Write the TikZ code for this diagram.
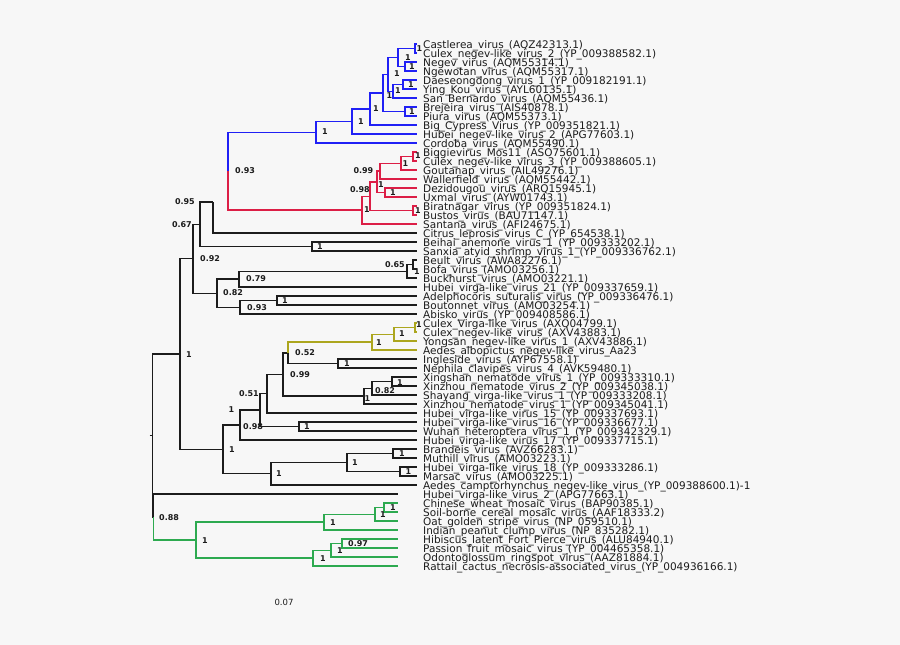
\documentclass[tikz,border=0pt]{standalone}
\usepackage{fontspec}
\setmainfont{DejaVu Sans}
\usetikzlibrary{calc}
\definecolor{cblue}{RGB}{32,32,245}
\definecolor{cred}{RGB}{220,30,70}
\definecolor{colive}{RGB}{172,166,30}
\definecolor{cgreen}{RGB}{45,170,80}
\definecolor{cdark}{RGB}{28,28,28}
\definecolor{bgc}{RGB}{247,247,247}
\begin{document}
\begin{tikzpicture}[x=1pt,y=-1pt,
  cd/.style={line width=1.4pt,cdark},
  cb/.style={line width=1.4pt,cblue},
  cr/.style={line width=1.4pt,cred},
  co/.style={line width=1.4pt,colive},
  cg/.style={line width=1.4pt,cgreen},
  tiplab/.style={anchor=base west,inner sep=0pt,font=\fontsize{10.5}{10.5}\selectfont,text=cdark},
  nl/.style={inner sep=0pt,font=\fontsize{8}{8}\selectfont\bfseries,text=cdark},
  nlw/.style={nl,anchor=west},
  nle/.style={nl,anchor=east}]
\fill[bgc] (0,0) rectangle (900,645);
\useasboundingbox (0,0) rectangle (900,645);
% tips
\foreach \i in {0,...,49} \coordinate (t\i) at (416.5,44+9*\i);
\foreach \i in {50,...,58} \coordinate (t\i) at (398,44+9*\i);
% internal nodes
\coordinate (P1) at (415,48.5);
\coordinate (P2) at (405,66.5);
\coordinate (b5) at (398,57.5);
\coordinate (P3) at (403,84.5);
\coordinate (b6) at (393,91.25);
\coordinate (b4) at (388,74.4);
\coordinate (P4) at (405,111.5);
\coordinate (b7) at (383,92.9);
\coordinate (b3) at (370,109);
\coordinate (b2) at (352,121.5);
\coordinate (b1) at (316,132.2);
\coordinate (P5) at (413,156.5);
\coordinate (R6) at (401,163.25);
\coordinate (R4) at (380,171.1);
\coordinate (R5) at (385,192.5);
\coordinate (R3) at (377,181.8);
\coordinate (P6) at (413,210.5);
\coordinate (R2) at (370,196.2);
\coordinate (R1) at (362,210.1);
\coordinate (N93) at (228,171.2);
\coordinate (D) at (213,202.1);
\coordinate (BS) at (312,246.5);
\coordinate (C) at (200,224.3);
\coordinate (H) at (413,264.5);
\coordinate (G) at (407,271.25);
\coordinate (F) at (239,279.1);
\coordinate (AB) at (277,300.5);
\coordinate (I) at (240,307.25);
\coordinate (E) at (217,293.2);
\coordinate (B) at (193,258.7);
\coordinate (O3) at (415,327.5);
\coordinate (O2) at (394,334.25);
\coordinate (O1) at (372,342.1);
\coordinate (IN) at (338,363.5);
\coordinate (N) at (288,352.8);
\coordinate (S) at (392,381.5);
\coordinate (Rr) at (372,388.25);
\coordinate (Q) at (364,396.1);
\coordinate (P) at (283,374.5);
\coordinate (T) at (267,393.7);
\coordinate (V) at (299,426.5);
\coordinate (U) at (260,410.1);
\coordinate (K) at (240,425.1);
\coordinate (X) at (393,453.5);
\coordinate (Y) at (400,471.5);
\coordinate (W) at (347,462.5);
\coordinate (L) at (271,473.75);
\coordinate (J) at (223,449.4);
\coordinate (A) at (180,354);
\coordinate (Z3) at (384,507.5);
\coordinate (Z2) at (375,514.25);
\coordinate (Z1) at (324,522.1);
\coordinate (Z6) at (342,543.5);
\coordinate (Z5) at (331,550.25);
\coordinate (Z4) at (313,558.1);
\coordinate (Z) at (196,540.1);
\coordinate (RR) at (153.5,517);
\coordinate (root) at (152.5,435.5);
\coordinate (rstub) at (149.5,435.5);
% blue clade
\foreach \p/\c in {P1/t0,P1/t1,P2/t2,P2/t3,b5/P1,b5/P2,P3/t4,P3/t5,b6/P3,b6/t6,b4/b5,b4/b6,P4/t7,P4/t8,b7/b4,b7/P4,b3/b7,b3/t9,b2/b3,b2/t10,b1/b2,b1/t11,N93/b1}
  \draw[cb] (\p) |- (\c);
% red clade
\foreach \p/\c in {P5/t12,P5/t13,R6/P5,R6/t14,R4/R6,R4/t15,R5/t16,R5/t17,R3/R4,R3/R5,P6/t18,P6/t19,R2/R3,R2/P6,R1/R2,R1/t20,N93/R1}
  \draw[cr] (\p) |- (\c);
% dark
\foreach \p/\c in {D/t21,C/D,BS/t22,BS/t23,C/BS,B/C,H/t24,H/t25,G/H,G/t26,F/G,F/t27,AB/t28,AB/t29,I/AB,I/t30,E/F,E/I,B/E,A/B,IN/t35,IN/t36,N/IN,S/t37,S/t38,Rr/S,Rr/t39,Q/Rr,Q/t40,P/N,P/Q,T/P,T/t41,V/t42,V/t43,U/T,U/V,K/U,K/t44,X/t45,X/t46,Y/t47,Y/t48,W/X,W/Y,L/W,L/t49,J/K,J/L,A/J,root/A,root/RR,RR/t50}
  \draw[cd] (\p) |- (\c);
\draw[cd] (rstub) -- (root);
% olive clade
\foreach \p/\c in {O3/t31,O3/t32,O2/O3,O2/t33,O1/O2,O1/t34,N/O1}
  \draw[co] (\p) |- (\c);
% green clade
\foreach \p/\c in {Z3/t51,Z3/t52,Z2/Z3,Z2/t53,Z1/Z2,Z1/t54,Z6/t55,Z6/t56,Z5/Z6,Z5/t57,Z4/Z5,Z4/t58,Z/Z1,Z/Z4,RR/Z}
  \draw[cg] (\p) |- (\c);
% tip labels
\foreach \txt [count=\i from 0] in {
Castlerea\_virus\_(AQZ42313.1),
Culex\_negev-like\_virus\_2\_(YP\_009388582.1),
Negev\_virus\_(AQM55314.1),
Ngewotan\_virus\_(AQM55317.1),
Daeseongdong\_virus\_1\_(YP\_009182191.1),
Ying\_Kou\_virus\_(AYL60135.1),
San\_Bernardo\_virus\_(AQM55436.1),
Brejeira\_virus\_(AIS40878.1),
Piura\_virus\_(AQM55373.1),
Big\_Cypress\_Virus\_(YP\_009351821.1),
Hubei\_negev-like\_virus\_2\_(APG77603.1),
Cordoba\_virus\_(AQM55490.1),
Biggievirus\_Mos11\_(ASO75601.1),
Culex\_negev-like\_virus\_3\_(YP\_009388605.1),
Goutanap\_virus\_(AIL49276.1),
Wallerfield\_virus\_(AQM55442.1),
Dezidougou\_virus\_(ARQ15945.1),
Uxmal\_virus\_(AYW01743.1),
Biratnagar\_virus\_(YP\_009351824.1),
Bustos\_virus\_(BAU71147.1),
Santana\_virus\_(AFI24675.1),
Citrus\_leprosis\_virus\_C\_(YP\_654538.1),
Beihai\_anemone\_virus\_1\_(YP\_009333202.1),
Sanxia\_atyid\_shrimp\_virus\_1\_(YP\_009336762.1),
Beult\_virus\_(AWA82276.1),
Bofa\_virus\_(AMO03256.1),
Buckhurst\_virus\_(AMO03221.1),
Hubei\_virga-like\_virus\_21\_(YP\_009337659.1),
Adelphocoris\_suturalis\_virus\_(YP\_009336476.1),
Boutonnet\_virus\_(AMO03254.1),
Abisko\_virus\_(YP\_009408586.1),
Culex\_Virga-like\_virus\_(AXQ04799.1),
Culex\_negev-like\_virus\_(AXV43883.1),
Yongsan\_negev-like\_virus\_1\_(AXV43886.1),
Aedes\_albopictus\_negev-like\_virus\_Aa23,
Ingleside\_virus\_(AYP67558.1),
Nephila\_clavipes\_virus\_4\_(AVK59480.1),
Xingshan\_nematode\_virus\_1\_(YP\_009333310.1),
Xinzhou\_nematode\_virus\_2\_(YP\_009345038.1),
Shayang\_virga-like\_virus\_1\_(YP\_009333208.1),
Xinzhou\_nematode\_virus\_1\_(YP\_009345041.1),
Hubei\_virga-like\_virus\_15\_(YP\_009337693.1),
Hubei\_virga-like\_virus\_16\_(YP\_009336677.1),
Wuhan\_heteroptera\_virus\_1\_(YP\_009342329.1),
Hubei\_virga-like\_virus\_17\_(YP\_009337715.1),
Brandeis\_virus\_(AVZ66283.1),
Muthill\_virus\_(AMO03223.1),
Hubei\_virga-like\_virus\_18\_(YP\_009333286.1),
Marsac\_virus\_(AMO03225.1),
Aedes\_camptorhynchus\_negev-like\_virus\_(YP\_009388600.1)-1,
Hubei\_virga-like\_virus\_2\_(APG77663.1),
Chinese\_wheat\_mosaic\_virus\_(BAP90385.1),
Soil-borne\_cereal\_mosaic\_virus\_(AAF18333.2),
Oat\_golden\_stripe\_virus\_(NP\_059510.1),
Indian\_peanut\_clump\_virus\_(NP\_835282.1),
Hibiscus\_latent\_Fort\_Pierce\_virus\_(ALU84940.1),
Passion\_fruit\_mosaic\_virus\_(YP\_004465358.1),
Odontoglossum\_ringspot\_virus\_(AAZ81884.1),
Rattail\_cactus\_necrosis-associated\_virus\_(YP\_004936166.1)}
  \node[tiplab] (l\i) at (423,48+9*\i) {\txt};
% support values: blue
\begin{scope}[every node/.append style={text=cblue}]
\node[nl] (sP1) at (419.5,48.5) {1};
\node[nl] (sb5) at (408,57.5) {1};
\node[nl] (sP2) at (412,66.5) {1};
\node[nl] (sb4) at (397,74) {1};
\node[nl] (sP3) at (411,84.5) {1};
\node[nl] (sb6) at (398,91) {1};
\node[nl] (sb7) at (389.5,96) {1};
\node[nl] (sP4) at (412,112) {1};
\node[nl] (sb3) at (376,109) {1};
\node[nl] (sb2) at (361,121.5) {1};
\node[nl] (sb1) at (325,132) {1};
\end{scope}
% red
\begin{scope}[every node/.append style={text=cred}]
\node[nl] (sP5) at (418,156) {1};
\node[nl] (sR6) at (405.5,163.5) {1};
\node[nle] (sR4) at (373.5,171) {0.99};
\node[nl] (sR3) at (381,184.5) {1};
\node[nl] (sR5) at (393,192.5) {1};
\node[nl] (sP6) at (418,211) {1};
\node[nle] (sR2) at (370,190) {0.98};
\node[nl] (sR1) at (367,210) {1};
\end{scope}
% olive
\begin{scope}[every node/.append style={text=colive}]
\node[nl] (sO3) at (419,325) {1};
\node[nl] (sO2) at (402,334) {1};
\node[nl] (sO1) at (379,343) {1};
\end{scope}
% green
\begin{scope}[every node/.append style={text=cgreen}]
\node[nl] (sZ3) at (393,508) {1};
\node[nl] (sZ2) at (383,515) {1};
\node[nl] (sZ1) at (333,523) {1};
\node[nlw] (sZ6) at (348,544) {0.97};
\node[nl] (sZ5) at (340,551) {1};
\node[nl] (sZ4) at (323,559) {1};
\node[nl] (sZ) at (205,541) {1};
\end{scope}
% dark
\node[nlw] (sN93) at (235,171) {0.93};
\node[nle] (sD) at (195,202) {0.95};
\node[nle] (sC) at (192,224.5) {0.67};
\node[nl] (sBS) at (320,247) {1};
\node[nlw] (sB) at (200,259) {0.92};
\node[nle] (sH) at (405,265) {0.65};
\node[nl] (sG) at (417,272) {1};
\node[nlw] (sF) at (246,279) {0.79};
\node[nl] (sAB) at (285,300.5) {1};
\node[nlw] (sI) at (247,308) {0.93};
\node[nlw] (sE) at (223,293) {0.82};
\node[nl] (sA) at (189,355) {1};
\node[nlw] (sN) at (295,353) {0.52};
\node[nl] (sIN) at (347,364) {1};
\node[nl] (sS) at (400,382.5) {1};
\node[nlw] (sRr) at (375,391) {0.82};
\node[nl] (sQ) at (367.5,399) {1};
\node[nlw] (sP) at (290,375) {0.99};
\node[nle] (sT) at (259,394) {0.51};
\node[nl] (sU) at (231.5,410) {1};
\node[nl] (sV) at (307,427) {1};
\node[nlw] (sK) at (243,427) {0.98};
\node[nl] (sX) at (402,454) {1};
\node[nl] (sY) at (408.5,472) {1};
\node[nl] (sW) at (355,463) {1};
\node[nl] (sL) at (279,474) {1};
\node[nl] (sJ) at (232,450) {1};
\node[nlw] (sRR) at (159,518) {0.88};
% scale
\node[inner sep=0pt,font=\fontsize{8.5}{8.5}\selectfont,text=cdark] (scale) at (284,602) {0.07};
\end{tikzpicture}
\end{document}
